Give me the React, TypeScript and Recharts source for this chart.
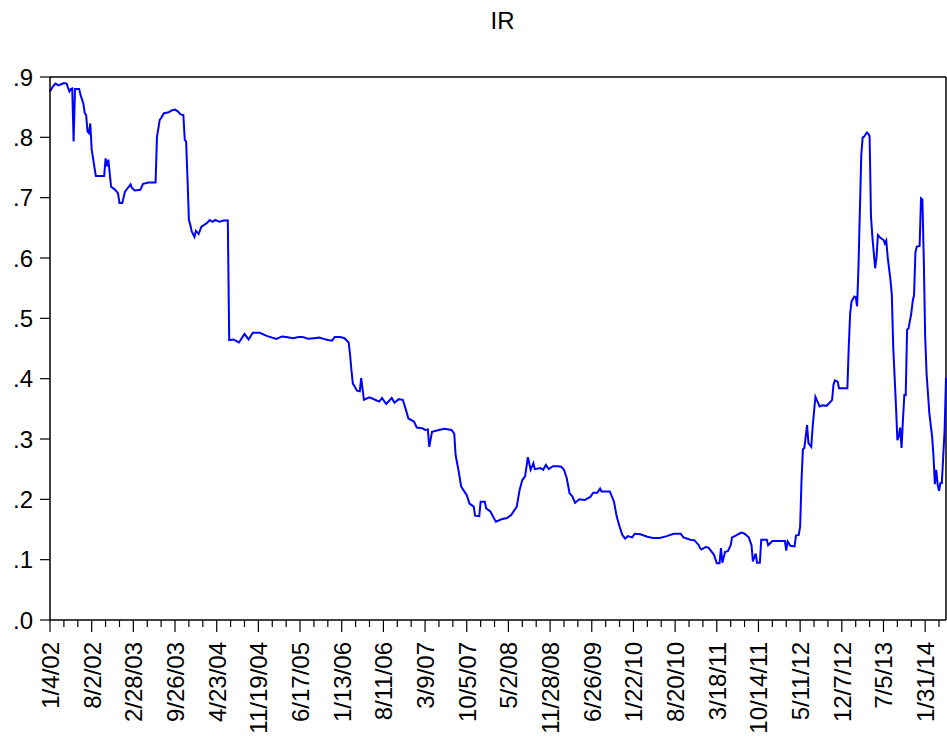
import { LineChart, Line, XAxis, YAxis, ReferenceLine } from 'recharts';

// weekly observations, week 0 = 1/4/02
const weeks = [
  0, 2, 4, 6, 8, 10, 12, 13, 14, 15, 16, 17, 18, 21, 22, 24, 25, 26, 27, 28, 29, 30, 31, 32, 33, 39, 40, 41, 42, 43,
  44, 47, 49, 50, 52, 54, 56, 58, 59, 61, 65, 67, 71, 76, 77, 79, 80, 82, 85, 88, 90, 92, 94, 96, 97, 98, 99, 100, 101, 102,
  104, 105, 107, 109, 113, 115, 117, 119, 122, 125, 128, 129, 132, 136, 140, 143, 146, 151, 156, 160, 163, 167, 170, 175, 179, 182, 186, 190, 194, 197,
  200, 203, 205, 209, 212, 215, 216, 217, 218, 221, 223, 224, 226, 230, 234, 237, 239, 242, 246, 248, 251, 254, 256, 258, 262, 264, 268, 270, 272, 273,
  275, 280, 284, 289, 291, 292, 294, 296, 300, 302, 305, 306, 309, 310, 313, 314, 317, 319, 321, 325, 329, 332, 336, 338, 340, 342, 344, 346, 348, 349,
  353, 355, 357, 359, 362, 366, 368, 370, 372, 374, 376, 378, 381, 385, 389, 391, 394, 396, 397, 403, 406, 408, 410, 412, 414, 416, 419, 421, 425, 430,
  434, 439, 444, 449, 454, 456, 461, 464, 467, 468, 469, 472, 474, 478, 480, 482, 483, 484, 486, 488, 490, 491, 493, 496, 498, 500, 503, 505, 506, 508,
  509, 511, 512, 516, 517, 520, 526, 529, 530, 531, 533, 536, 537, 539, 540, 541, 542, 543, 545, 546, 548, 549, 551, 552, 554, 556, 559, 562, 563, 564,
  565, 567, 568, 574, 575, 576, 577, 579, 580, 581, 582, 584, 585, 586, 588, 589, 590, 591, 592, 594, 595, 596, 598, 600, 601, 602, 603, 605, 606, 607,
  609, 610, 611, 612, 613, 614, 615, 616, 617, 618, 620, 621, 622, 623, 624, 626, 627, 628, 629, 630, 631, 633, 635, 636, 637, 638, 639, 640, 641, 642,
  644, 645,
];

const ir = [
  0.876, 0.884, 0.889, 0.886, 0.888, 0.89, 0.889, 0.882, 0.876, 0.88, 0.881, 0.793, 0.88, 0.88, 0.87, 0.856, 0.84, 0.837, 0.81, 0.807, 0.823, 0.78, 0.765, 0.75, 0.736, 0.736, 0.765, 0.752, 0.763, 0.74,
  0.718, 0.713, 0.707, 0.691, 0.691, 0.71, 0.716, 0.722, 0.716, 0.712, 0.713, 0.723, 0.725, 0.725, 0.801, 0.829, 0.832, 0.84, 0.841, 0.845, 0.846, 0.843, 0.838, 0.837, 0.796, 0.793, 0.73, 0.663, 0.655, 0.644,
  0.635, 0.645, 0.64, 0.652, 0.658, 0.663, 0.66, 0.663, 0.66, 0.662, 0.662, 0.464, 0.465, 0.46, 0.474, 0.465, 0.476, 0.476, 0.471, 0.468, 0.466, 0.47, 0.469, 0.467, 0.469, 0.469, 0.466, 0.467, 0.468, 0.466,
  0.464, 0.463, 0.469, 0.469, 0.467, 0.46, 0.44, 0.414, 0.392, 0.38, 0.379, 0.401, 0.365, 0.369, 0.365, 0.362, 0.368, 0.358, 0.368, 0.36, 0.366, 0.365, 0.35, 0.334, 0.329, 0.319, 0.318, 0.315, 0.316, 0.287,
  0.312, 0.315, 0.317, 0.315, 0.309, 0.273, 0.249, 0.221, 0.207, 0.193, 0.188, 0.173, 0.172, 0.196, 0.196, 0.185, 0.18, 0.171, 0.163, 0.167, 0.169, 0.174, 0.188, 0.215, 0.232, 0.238, 0.27, 0.249, 0.26, 0.25,
  0.252, 0.249, 0.257, 0.25, 0.255, 0.255, 0.254, 0.249, 0.235, 0.21, 0.205, 0.194, 0.2, 0.199, 0.204, 0.211, 0.211, 0.218, 0.213, 0.213, 0.196, 0.171, 0.155, 0.141, 0.135, 0.139, 0.137, 0.143, 0.142, 0.138,
  0.136, 0.136, 0.139, 0.143, 0.143, 0.137, 0.133, 0.132, 0.124, 0.119, 0.117, 0.121, 0.12, 0.108, 0.094, 0.094, 0.119, 0.095, 0.113, 0.114, 0.124, 0.137, 0.139, 0.143, 0.145, 0.143, 0.137, 0.124, 0.097, 0.11,
  0.095, 0.095, 0.133, 0.133, 0.124, 0.131, 0.131, 0.131, 0.115, 0.13, 0.123, 0.122, 0.14, 0.141, 0.155, 0.232, 0.283, 0.285, 0.323, 0.293, 0.287, 0.32, 0.37, 0.365, 0.354, 0.356, 0.355, 0.362, 0.365, 0.39,
  0.397, 0.395, 0.384, 0.384, 0.453, 0.508, 0.528, 0.536, 0.535, 0.52, 0.586, 0.77, 0.8, 0.801, 0.808, 0.806, 0.802, 0.669, 0.635, 0.583, 0.602, 0.638, 0.633, 0.63, 0.624, 0.629, 0.602, 0.564, 0.539, 0.453,
  0.354, 0.298, 0.304, 0.319, 0.285, 0.331, 0.373, 0.373, 0.481, 0.483, 0.508, 0.528, 0.539, 0.61, 0.619, 0.62, 0.699, 0.697, 0.6, 0.47, 0.409, 0.343, 0.304, 0.271, 0.225, 0.249, 0.224, 0.214, 0.227, 0.227,
  0.315, 0.401,
];

// one label every 30 weeks
const tickLabels = [
  '1/4/02', '8/2/02', '2/28/03', '9/26/03', '4/23/04', '11/19/04', '6/17/05', '1/13/06', '8/11/06', '3/9/07', '10/5/07',
  '5/2/08', '11/28/08', '6/26/09', '1/22/10', '8/20/10', '3/18/11', '10/14/11', '5/11/12', '12/7/12', '7/5/13', '1/31/14',
];

const yTicks = [0, 0.1, 0.2, 0.3, 0.4, 0.5, 0.6, 0.7, 0.8, 0.9];

const FONT = '"Liberation Sans", Arial, sans-serif';
const LAST_WEEK = 645;

// minor tick every 10 weeks, major (labelled) every 30
const weekTicks = Array.from({ length: 65 }, (_, i) => i * 10);

const data = weeks.map((w, i) => ({ week: w, ir: ir[i] }));

function DateTick({ x, y, payload }: any) {
  const w = payload.value;
  const major = w % 30 === 0;
  const label = major ? tickLabels[w / 30] : null;
  return (
    <g>
      <line x1={x} x2={x} y1={y} y2={y + (major ? 12 : 7)} stroke="#000" strokeWidth={1.2} />
      {label && (
        <text
          transform={`translate(${x + 9},${y + 22}) rotate(-90)`}
          textAnchor="end"
          fontSize={24}
          fontFamily={FONT}
          fill="#000"
        >
          {label}
        </text>
      )}
    </g>
  );
}

export default function App() {
  return (
    <div style={{ position: 'relative', width: 947, height: 740, background: '#fff' }}>
      <style>{'body{margin:0}'}</style>
      <div
        style={{
          position: 'absolute',
          top: 7,
          left: 0,
          width: 1005,
          textAlign: 'center',
          fontFamily: FONT,
          fontSize: 24,
          color: '#000',
        }}
      >
        IR
      </div>
      <LineChart width={947} height={740} data={data} margin={{ top: 77, right: 1, bottom: 0, left: 0 }}>
        <XAxis
          dataKey="week"
          type="number"
          domain={[0, LAST_WEEK]}
          ticks={weekTicks}
          interval={0}
          height={120}
          tickSize={0}
          tickMargin={0}
          tickLine={false}
          tick={<DateTick />}
          axisLine={{ stroke: '#000', strokeWidth: 1.5 }}
        />
        <YAxis
          domain={[0, 0.9]}
          ticks={yTicks}
          width={50}
          tickSize={10}
          tickMargin={7}
          tickFormatter={(v: number) => v.toFixed(1).replace(/^0/, '')}
          tick={{ fontSize: 24, fill: '#000', fontFamily: FONT }}
          tickLine={{ stroke: '#000', strokeWidth: 1.2 }}
          axisLine={{ stroke: '#000', strokeWidth: 1.5 }}
        />
        <ReferenceLine y={0.9} stroke="#000" strokeWidth={1.5} />
        <ReferenceLine x={LAST_WEEK} stroke="#000" strokeWidth={1.5} />
        <Line
          dataKey="ir"
          type="linear"
          stroke="#0000ff"
          strokeWidth={2}
          dot={false}
          isAnimationActive={false}
        />
      </LineChart>
    </div>
  );
}
